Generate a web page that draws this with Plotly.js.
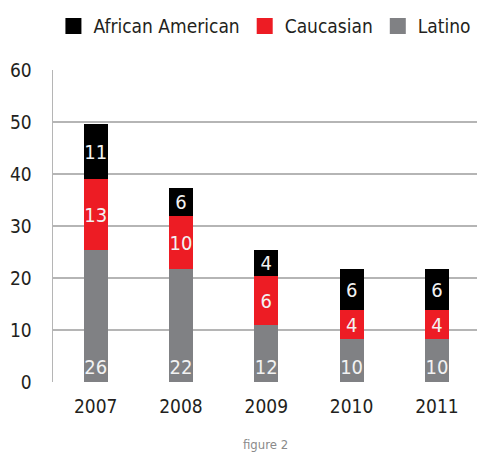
<!DOCTYPE html>
<html>
<head>
<meta charset="utf-8">
<script src="https://cdn.plot.ly/plotly-3.0.1.min.js"></script>
<style>
html,body{margin:0;padding:0;background:#fff;}
#chart{width:477px;height:452px;}
text{font-stretch:condensed !important;}
</style>
</head>
<body>
<div id="chart"></div>
<script>
// Categories
const years = ['2007', '2008', '2009', '2010', '2011'];
// Bar segment heights as drawn in the picture
const latino = [25.4, 21.7, 10.9, 8.2, 8.2];
const caucasian = [13.6, 10.2, 9.4, 5.6, 5.6];
const africanAmerican = [10.6, 5.4, 5.0, 7.9, 7.9];
// Printed value labels
const latinoLabels = ['26', '22', '12', '10', '10'];
const caucasianLabels = ['13', '10', '6', '4', '4'];
const africanAmericanLabels = ['11', '6', '4', '6', '6'];
const yTicks = [0, 10, 20, 30, 40, 50, 60];

const FONT = 'DejaVu Sans, sans-serif';
const barText = {family: FONT, size: 20, color: '#f2f2f2'};
const COLORS = {'Latino': '#808184', 'Caucasian': '#ed1c24', 'African American': '#000000'};

function barTrace(name, y, text, anchor) {
  return {
    type: 'bar', name: name, x: years, y: y, text: text,
    textposition: 'inside', insidetextanchor: anchor, textangle: 0,
    constraintext: 'none', textfont: barText, texttemplate: '%{text}',
    marker: {color: COLORS[name], line: {width: 0}}, width: 0.28,
    hoverinfo: 'skip', showlegend: false
  };
}
function legendTrace(name) {
  return {
    type: 'scatter', mode: 'markers', name: name, x: [years[0]], y: [null],
    marker: {symbol: 'square', size: 16, color: COLORS[name], line: {width: 0}},
    hoverinfo: 'skip', showlegend: true
  };
}

const data = [
  barTrace('Latino', latino, latinoLabels, 'start'),
  barTrace('Caucasian', caucasian, caucasianLabels, 'middle'),
  barTrace('African American', africanAmerican, africanAmericanLabels, 'middle'),
  legendTrace('African American'),
  legendTrace('Caucasian'),
  legendTrace('Latino')
];

const layout = {
  width: 477, height: 452,
  margin: {l: 53, r: 0, t: 70, b: 70},
  barmode: 'stack',
  paper_bgcolor: '#ffffff', plot_bgcolor: '#ffffff',
  font: {family: FONT, color: '#231f20'},
  showlegend: true,
  legend: {
    orientation: 'h', traceorder: 'normal',
    xref: 'container', yref: 'container',
    x: 0.112, xanchor: 'left', y: 0.942, yanchor: 'middle',
    font: {family: FONT, size: 19, color: '#231f20'},
    bgcolor: 'rgba(0,0,0,0)', itemclick: false
  },
  xaxis: {
    type: 'category', range: [-0.5, 4.47],
    showgrid: false, zeroline: false, showline: false,
    ticks: '', ticklabelstandoff: 11,
    tickfont: {family: FONT, size: 19, color: '#231f20'}
  },
  yaxis: {
    range: [0, 60], tickvals: yTicks, ticktext: yTicks.map(String),
    showgrid: true, gridcolor: '#b5b5b5', gridwidth: 1.5,
    zeroline: false, showline: true, linecolor: '#b5b5b5', linewidth: 1.5,
    ticks: '', ticklabelstandoff: 16,
    tickfont: {family: FONT, size: 19, color: '#231f20'}
  },
  annotations: [{
    text: 'figure 2', xref: 'paper', yref: 'paper', x: 0.5, y: -0.2,
    xanchor: 'center', yanchor: 'middle', showarrow: false,
    font: {family: FONT, size: 13, color: '#8a8a8a'}
  }]
};

Plotly.newPlot('chart', data, layout, {displayModeBar: false, staticPlot: true});
</script>
</body>
</html>
